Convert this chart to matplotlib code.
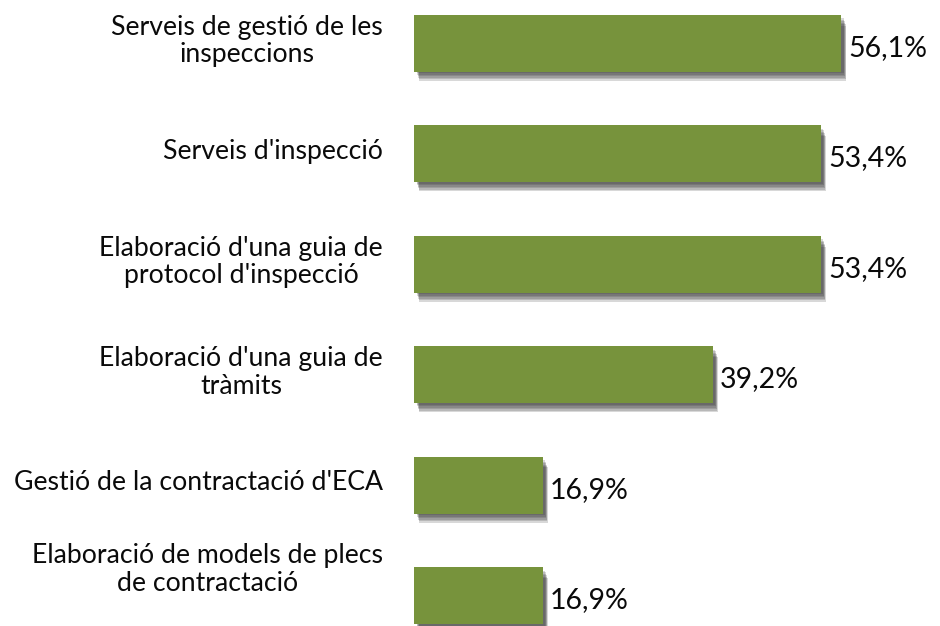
import matplotlib

matplotlib.use("Agg")
import matplotlib.pyplot as plt
import numpy as np

categories = [
    "Serveis de gestió de les\ninspeccions",
    "Serveis d'inspecció",
    "Elaboració d'una guia de\nprotocol d'inspecció",
    "Elaboració d'una guia de\ntràmits",
    "Gestió de la contractació d'ECA",
    "Elaboració de models de plecs\nde contractació",
]
values = [56.1, 53.4, 53.4, 39.2, 16.9, 16.9]
value_labels = ["56,1%", "53,4%", "53,4%", "39,2%", "16,9%", "16,9%"]

BAR_COLOR = "#77933C"
SHADOW_COLOR = "#2a2a2a"
FONT = ["Lato", "DejaVu Sans"]

# pixel geometry of the reference (940x626 at 100 dpi)
W, H = 940, 626
X0_PX = 414          # where 0 % sits
PX_PER_PCT = 7.62
ROW_PX = 110.5
FIRST_ROW_PX = 43

fig = plt.figure(figsize=(W / 100, H / 100), dpi=100)
fig.patch.set_facecolor("white")
ax = fig.add_axes([X0_PX / W, 0, (W - X0_PX) / W, 1])
ax.set_axis_off()

xmax = (W - X0_PX) / PX_PER_PCT
ytop = -FIRST_ROW_PX / ROW_PX
ybot = (H - FIRST_ROW_PX) / ROW_PX
ax.set_xlim(0, xmax)
ax.set_ylim(ybot, ytop)

px_x = 1 / PX_PER_PCT
px_y = 1 / ROW_PX
bar_h = 57 * px_y
y = np.arange(len(values))

# soft drop shadow: a few offset translucent layers
for k in range(1, 7):
    ax.barh(y + (1 + 1.5 * k) * px_y, values, left=(2 + 0.5 * k) * px_x,
            height=bar_h - 2 * px_y, color=SHADOW_COLOR, alpha=0.18,
            linewidth=0, zorder=1)

ax.barh(y, values, height=bar_h, color=BAR_COLOR, linewidth=0, zorder=3)

label_x = -(X0_PX - 383) * px_x
for i, (cat, v, lab) in enumerate(zip(categories, values, value_labels)):
    nudge = -26 if i == len(values) - 1 else -2
    ax.text(label_x, i + nudge * px_y, cat, ha="right", va="center",
            multialignment="center", fontsize=19.2, family=FONT,
            color="#0a0a0a", linespacing=1.12, clip_on=False)
    ax.text(v + 7 * px_x, i + 5 * px_y, lab, ha="left", va="center",
            fontsize=20.5, family=FONT, color="#0a0a0a", clip_on=False)

fig.savefig("out.png", dpi=100, facecolor="white")
plt.close(fig)
